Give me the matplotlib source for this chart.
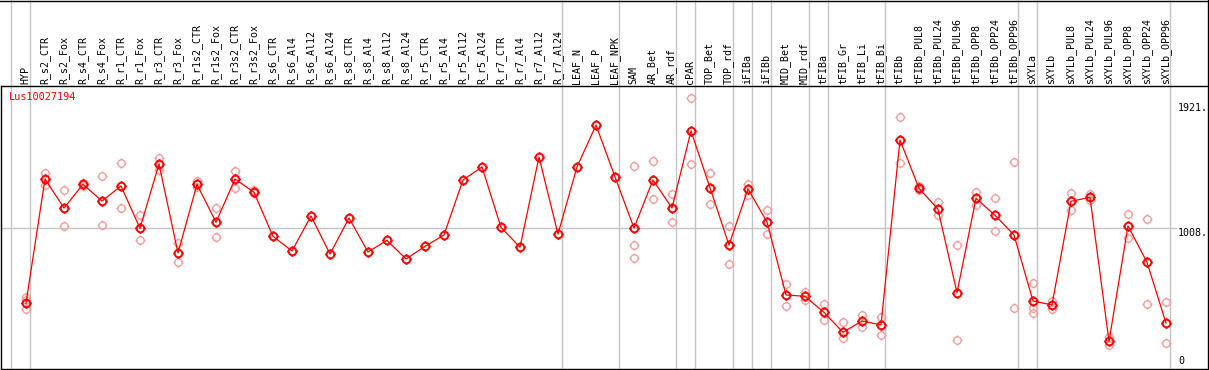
import matplotlib
matplotlib.use('Agg')
import matplotlib.pyplot as plt
from matplotlib.path import Path
from matplotlib.lines import Line2D
from matplotlib.transforms import blended_transform_factory

gene = 'Lus10027194'

samples = ['HYP', 'R_s2_CTR', 'R_s2_Fox', 'R_s4_CTR', 'R_s4_Fox', 'R_r1_CTR', 'R_r1_Fox',
           'R_r3_CTR', 'R_r3_Fox', 'R_r1s2_CTR', 'R_r1s2_Fox', 'R_r3s2_CTR', 'R_r3s2_Fox',
           'R_s6_CTR', 'R_s6_Al4', 'R_s6_Al12', 'R_s6_Al24', 'R_s8_CTR', 'R_s8_Al4',
           'R_s8_Al12', 'R_s8_Al24', 'R_r5_CTR', 'R_r5_Al4', 'R_r5_Al12', 'R_r5_Al24',
           'R_r7_CTR', 'R_r7_Al4', 'R_r7_Al12', 'R_r7_Al24', 'LEAF_N', 'LEAF_P', 'LEAF_NPK',
           'SAM', 'AR_Bet', 'AR_rdf', 'cPAR', 'TOP_Bet', 'TOP_rdf', 'iFIBa', 'iFIBb',
           'MID_Bet', 'MID_rdf', 'tFIBa', 'tFIB_Gr', 'tFIB_Li', 'tFIB_Bi', 'tFIBb',
           'tFIBb_PUL8', 'tFIBb_PUL24', 'tFIBb_PUL96', 'tFIBb_OPP8', 'tFIBb_OPP24',
           'tFIBb_OPP96', 'sXYLa', 'sXYLb', 'sXYLb_PUL8', 'sXYLb_PUL24', 'sXYLb_PUL96',
           'sXYLb_OPP8', 'sXYLb_OPP24', 'sXYLb_OPP96']

# mean expression per sample
means = [458, 1366, 1154, 1327, 1205, 1315, 1006, 1476, 825, 1327, 1050, 1366, 1269,
         947, 840, 1096, 818, 1081, 833, 918, 782, 874, 957, 1359, 1454,
         1013, 867, 1527, 964, 1454, 1760, 1381,
         1008, 1359, 1154, 1717, 1302, 884, 1293, 1052, 519, 509,
         392, 246, 329, 300, 1651, 1298, 1145, 535, 1225, 1101, 957,
         475, 446, 1203, 1232, 180, 1023, 758, 314]

# replicate values per sample
reps = [[504, 482, 416], [1410, 1324], [1283, 1023], [1337, 1315], [1386, 1030],
        [1481, 1154], [1103, 918], [1519, 1434], [899, 760], [1351, 1308], [1152, 940],
        [1422, 1298], [1288, 1262],
        [], [], [], [], [], [], [], [], [], [], [], [], [], [], [], [], [], [], [],
        [1459, 884, 787], [1498, 1220], [1256, 1052], [1958, 1476], [1408, 1183],
        [1023, 743], [1330, 1251], [1140, 964], [599, 436], [538, 484],
        [453, 334], [321, 205], [373, 285], [358, 226], [1819, 1483], [1313, 1288],
        [1198, 1101], [886, 190], [1271, 1174], [1227, 984], [1490, 421],
        [604, 424, 385], [473, 419], [1264, 1137], [1256, 1213], [210, 156],
        [1110, 933], [1074, 453], [465, 166]]

# number of samples in each tissue group (separators drawn after each group)
group_sizes = [1, 28, 3, 3, 1, 2, 1, 1, 2, 1, 3, 7, 1, 7]

ytick_vals = [1921, 1008, 0]
grid_val = 1008

W, H = 1209, 370
fig = plt.figure(figsize=(W / 100, H / 100), dpi=100)
ax = fig.add_axes([1 / W, 1 / H, 1207 / W, 283 / H])

# pixel layout: sample i centered at 26 + 19*i, value 0 at y=366, 0.1369 px per unit
ax.set_xlim((1 - 26) / 19, (1208 - 26) / 19)
ax.set_ylim((366 - 369) / 0.1369, (366 - 86) / 0.1369)
ax.set_xticks([])
ax.set_yticks([])
for s in ax.spines.values():
    s.set_color('black')
    s.set_linewidth(1.0)

mono = 'DejaVu Sans Mono'
red = '#ff0000'
pink = '#f0a0a0'
grey = '#c4c4c4'

# circle with four small ticks
ticks = Path([(0, 1), (0, 1.35), (0, -1), (0, -1.35), (1, 0), (1.35, 0), (-1, 0), (-1.35, 0)],
             [Path.MOVETO, Path.LINETO] * 4)
mk = Path.make_compound_path(Path.unit_circle(), ticks)

xs = list(range(len(samples)))

# group separators, running through the header too
fig_x = blended_transform_factory(ax.transData, fig.transFigure)
end = -1
sep = [end]
for g in group_sizes:
    end += g
    sep.append(end)
for e in sep:
    ax.plot([e + 0.22, e + 0.22], [0, 1], transform=fig_x, color=grey, lw=1.0,
            clip_on=False, zorder=0)

ax.axhline(grid_val, xmin=0, xmax=(1176 - 1) / 1207, color=grey, lw=1.0, zorder=0)

# replicates
for i, r in enumerate(reps):
    if r:
        ax.plot([i] * len(r), r, linestyle='none', marker=mk, markersize=7.2,
                markerfacecolor='none', markeredgecolor=pink, markeredgewidth=1.0, zorder=2)

ax.plot(xs, means, color=red, lw=0.9, marker=mk, markersize=7.4, markerfacecolor='none',
        markeredgecolor=red, markeredgewidth=1.4, zorder=3)

# header labels
for i, name in enumerate(samples):
    ax.text(i - 0.03, (H - 84) / H, name, transform=fig_x, rotation=90, ha='center',
            va='bottom', fontsize=7.2, family=mono, color='black')

ax.text(8 / 1207, 1 - 6 / 283, gene, transform=ax.transAxes, ha='left', va='top',
        fontsize=7.4, family=mono, color=red)

# right side value labels
yax = ax.get_yaxis_transform()
for v in ytick_vals:
    ax.text((1178 - 1) / 1207, v, f'{v}.' if v else '0', transform=yax, ha='left',
            va='bottom' if v == 0 else 'top', fontsize=7.2, family=mono, color='black',
            clip_on=False)

# outer frame of the header
fig.add_artist(Line2D([0, 1208 / W], [1 - 0.5 / H, 1 - 0.5 / H], color='black', lw=1.0))
fig.add_artist(Line2D([1207.5 / W, 1207.5 / W], [1, (H - 86) / H], color='black', lw=1.0))

fig.savefig('out.png', dpi=100)
